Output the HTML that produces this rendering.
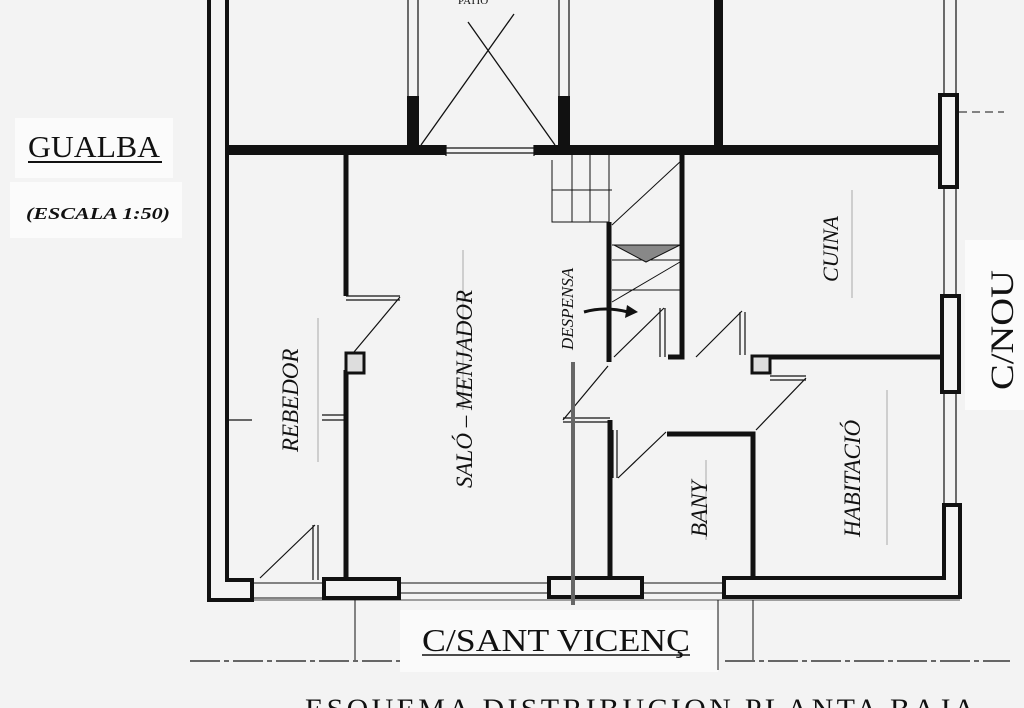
<!DOCTYPE html>
<html><head><meta charset="utf-8"><style>
html,body{margin:0;padding:0;background:#f3f3f3;}
svg{display:block;}
text{font-family:"Liberation Serif",serif;fill:#111;}
</style></head><body>
<svg width="1024" height="708" viewBox="0 0 1024 708" xmlns="http://www.w3.org/2000/svg">
<rect width="1024" height="708" fill="#f3f3f3"/>
<rect x="15" y="118" width="158" height="60" fill="#fbfbfb"/>
<rect x="10" y="182" width="172" height="56" fill="#fbfbfb"/>
<rect x="965" y="240" width="59" height="170" fill="#fbfbfb"/>
<rect x="400" y="610" width="318" height="62" fill="#fafafa"/>

<g stroke="#111" fill="none">
<path d="M209 0 V600 H252 V580 H227 V0" stroke-width="4"/>
<rect x="227" y="145" width="219" height="10" fill="#111" stroke="none"/>
<rect x="534" y="145" width="406" height="10" fill="#111" stroke="none"/>
<path d="M446 148 H534 M446 153 H534 M446 145 V156 M534 145 V156" stroke-width="1.2"/>
<rect x="407" y="96" width="12" height="52" fill="#111" stroke="none"/>
<rect x="558" y="96" width="12" height="52" fill="#111" stroke="none"/>
<path d="M408 0 V96 M418 0 V96 M559 0 V96 M569 0 V96" stroke-width="1.2"/>
<rect x="714" y="0" width="9" height="148" fill="#111" stroke="none"/>
<path d="M421 145 L514 14 M555 145 L468 22" stroke-width="1.3"/>
<path d="M944 0 V93 M956 0 V93" stroke-width="1.2"/>
<rect x="940" y="95" width="17" height="92" stroke-width="4"/>
<path d="M944 188 V295 M956 188 V295 M944 392 V505 M956 392 V505" stroke-width="1.2"/>
<rect x="942" y="296" width="17" height="96" stroke-width="4"/>
<path d="M959 112 H1004" stroke-width="1" stroke-dasharray="8 5"/>
<rect x="324" y="579" width="75" height="19" stroke-width="4"/>
<rect x="549" y="578" width="93" height="19" stroke-width="4"/>
<path d="M724 597 V578 H944 V505 H960 V597 Z" stroke-width="4"/>
<path d="M252 583 H324 M252 598 H324 M399 583 H549 M399 593 H549 M642 583 H724 M642 593 H724" stroke-width="1"/>
<path d="M225 600 H960" stroke-width="0.8"/>
<path d="M346 155 V296 M346 370 V578" stroke-width="5"/>
<rect x="346" y="353" width="18" height="20" stroke-width="3" fill="#ddd"/>
<path d="M346 296 H400 M346 300 H400 M400 297 L354 352" stroke-width="1.2"/>
<path d="M609 222 V362 M682 155 V357 H668" stroke-width="5"/>
<path d="M770 357 H940" stroke-width="5"/>
<rect x="752" y="356" width="18" height="17" stroke-width="3" fill="#ddd"/>
<path d="M770 376 H806 M770 380 H806 M806 378 L756 430" stroke-width="1.2"/>
<path d="M667 434 H753 V578" stroke-width="5"/>
<path d="M610 420 V578" stroke-width="5"/>
<path d="M563 418 H610 M563 422 H610 M563 420 L608 366" stroke-width="1.2"/>
<path d="M613 430 V478 M617 430 V478 M618 478 L666 432" stroke-width="1.2"/>
<path d="M660 308 V357 M665 308 V357 M614 357 L664 308" stroke-width="1.2"/>
<path d="M740 312 V355 M745 312 V355 M696 357 L742 311" stroke-width="1.2"/>
<path d="M313 525 V580 M318 525 V580 M260 578 L315 525" stroke-width="1.2"/>
<path d="M228 420 H252 M322 415 H346 M322 420 H346" stroke-width="1.2"/>
<path d="M552 160 V222 H609 M552 190 H612 M572 155 V222 M590 155 V222 M609 155 V222 M612 260 H682 M612 245 H682 M612 290 H682 M612 225 L682 160 M612 302 L680 262" stroke-width="1"/>
<path d="M614 245 H680 L646 262 Z" fill="#888" stroke-width="1"/>
<path d="M584 312 Q605 306 628 312" stroke-width="3"/>
<path d="M627 305 L638 312 L625 318 Z" fill="#111" stroke="none"/>
<path d="M573 362 V605" stroke="#666" stroke-width="4"/>
<path d="M318 318 V462 M463 250 V410 M852 190 V298 M706 460 V540 M887 390 V545" stroke-width="0.6" stroke="#777"/>
<path d="M190 661 H400 M725 661 H1010" stroke-width="1.3" stroke-dasharray="30 4 5 4"/>
<path d="M355 600 V660 M718 600 V670 M753 600 V660" stroke-width="1"/>
<path d="M28 162 H162" stroke-width="2"/>
<path d="M422 655 H690" stroke-width="1.5"/>
</g>

<text x="28" y="157" font-size="31" textLength="132" lengthAdjust="spacingAndGlyphs">GUALBA</text>
<text x="26" y="219" font-size="17" font-weight="bold" font-style="italic" textLength="144" lengthAdjust="spacingAndGlyphs">(ESCALA 1:50)</text>
<text x="422" y="651" font-size="32" textLength="268" lengthAdjust="spacingAndGlyphs">C/SANT VICENÇ</text>
<text x="305" y="719" font-size="30" font-family="Liberation Sans" textLength="670" lengthAdjust="spacing">ESQUEMA  DISTRIBUCION  PLANTA  BAJA</text>
<text transform="translate(1013,390) rotate(-90)" font-size="33" textLength="120" lengthAdjust="spacingAndGlyphs">C/NOU</text>
<g font-style="italic">
<text transform="translate(298,452) rotate(-90)" font-size="23">REBEDOR</text>
<text transform="translate(472,488) rotate(-90)" font-size="23">SALÓ – MENJADOR</text>
<text transform="translate(573,350) rotate(-90)" font-size="17">DESPENSA</text>
<text transform="translate(838,282) rotate(-90)" font-size="22">CUINA</text>
<text transform="translate(707,537) rotate(-90)" font-size="23">BANY</text>
<text transform="translate(860,537) rotate(-90)" font-size="23">HABITACIÓ</text>
</g>
<text x="458" y="4" font-size="11" font-family="Liberation Sans">PATIO</text>
</svg>
</body></html>
